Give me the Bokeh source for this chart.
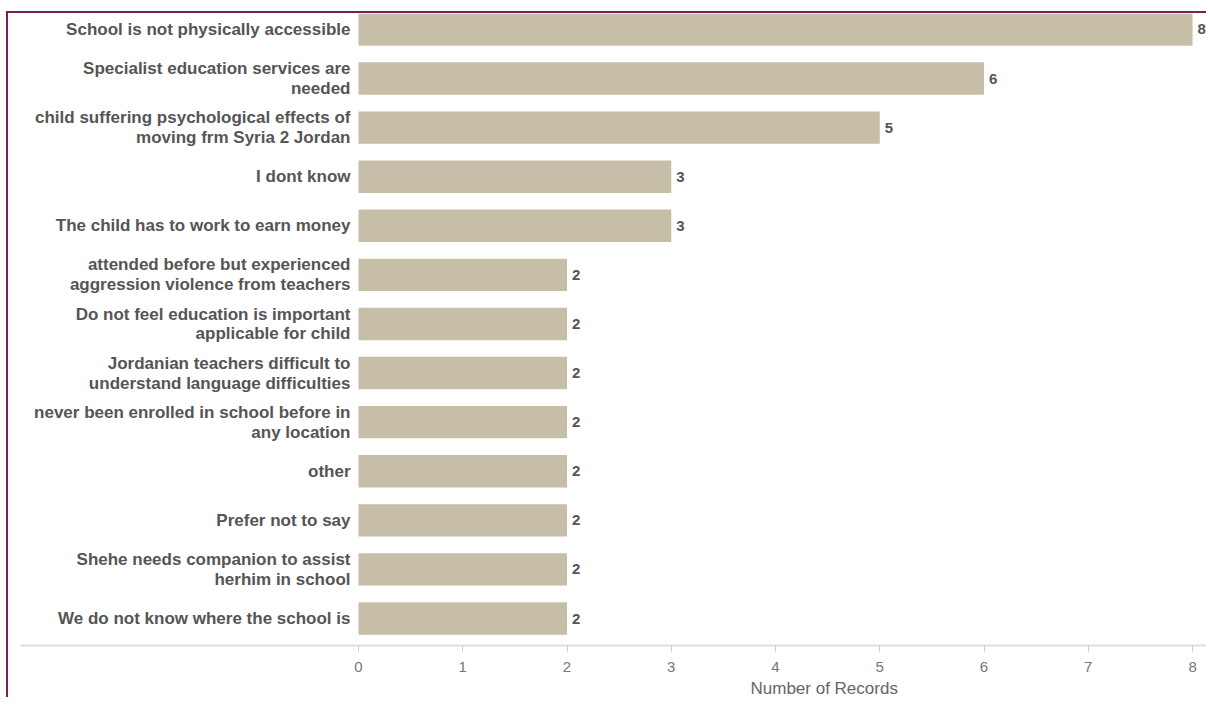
from bokeh.plotting import figure
from bokeh.models import Range1d, FixedTicker, Title, ColumnDataSource
from bokeh.core.properties import value
from bokeh.embed import file_html
from bokeh.resources import INLINE

categories = [
    "School is not physically accessible",
    "Specialist education services are\nneeded",
    "child suffering psychological effects of\nmoving frm Syria 2 Jordan",
    "I dont know",
    "The child has to work to earn money",
    "attended before but experienced\naggression violence from teachers",
    "Do not feel education is important\napplicable for child",
    "Jordanian teachers difficult to\nunderstand language difficulties",
    "never been enrolled in school before in\nany location",
    "other",
    "Prefer not to say",
    "Shehe needs companion to assist\nherhim in school",
    "We do not know where the school is",
]
records = [8, 6, 5, 3, 3, 2, 2, 2, 2, 2, 2, 2, 2]
x_ticks = [0, 1, 2, 3, 4, 5, 6, 7, 8]
axis_title = "Number of Records"

pos = list(range(len(categories)))
src = ColumnDataSource(dict(y=pos, v=records, cat=categories,
                            lab=[str(r) for r in records],
                            zero=[0] * len(records)))

p = figure(width=1200, height=686, output_backend="svg", toolbar_location=None,
           x_range=Range1d(-3.242, 8.153), y_range=Range1d(12.55, -0.325),
           min_border_left=12, min_border_right=0, min_border_top=0,
           min_border_bottom=53)
p.styles = {"border-top": "2px solid #7b2152", "border-left": "2px solid #7b2152",
            "margin-top": "11px", "margin-left": "6px"}
p.outline_line_color = None
p.xgrid.grid_line_color = None
p.ygrid.grid_line_color = None
p.yaxis.visible = False

p.hbar(y="y", left="zero", right="v", height=0.66, source=src,
       fill_color="#c6bea7", line_color=None)

p.text(x="zero", y="y", text="cat", source=src, x_offset=-8,
       text_align="right", text_baseline="middle",
       text_font=value("Liberation Sans"), text_font_style="bold",
       text_font_size="17px", text_color="#555555", text_line_height=1.05)

p.text(x="v", y="y", text="lab", source=src, x_offset=5,
       text_align="left", text_baseline="middle",
       text_font=value("Liberation Sans"), text_font_style="bold",
       text_font_size="15px", text_color="#555555")

ax = p.xaxis[0]
ax.ticker = FixedTicker(ticks=x_ticks)
ax.axis_line_color = "#dddddd"
ax.axis_line_width = 2
ax.major_tick_line_color = "#cccccc"
ax.major_tick_out = 6
ax.major_tick_in = 0
ax.minor_tick_line_color = None
ax.major_label_text_font = "Liberation Sans"
ax.major_label_text_font_size = "15px"
ax.major_label_text_color = "#777777"
ax.major_label_standoff = 10

p.add_layout(Title(text=axis_title, align="left", offset=730,
                   text_font="Liberation Sans", text_font_style="normal",
                   text_font_size="17px", text_color="#666666",
                   standoff=4), "below")

open("out.html", "w").write(file_html(p, INLINE))
